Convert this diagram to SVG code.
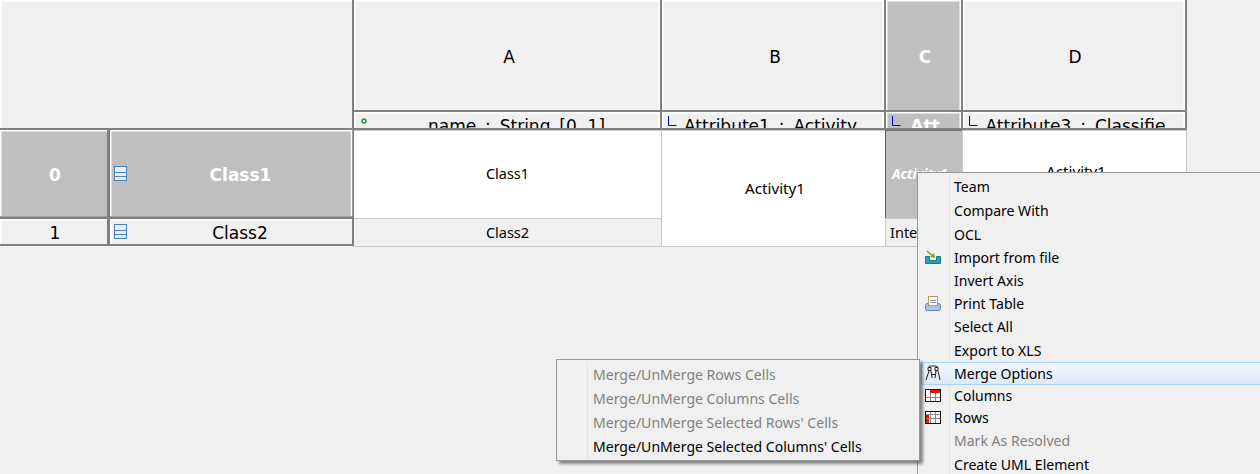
<svg xmlns="http://www.w3.org/2000/svg" width="1260" height="474" viewBox="0 0 1260 474">
<defs>
<filter id="sh" x="-5%" y="-10%" width="112%" height="125%"><feDropShadow dx="3" dy="3" stdDeviation="1.500" flood-color="#000" flood-opacity=".45"/></filter>
<linearGradient id="hov" x1="0" y1="0" x2="0" y2="1"><stop offset="0" stop-color="#f2f7fd"/><stop offset="1" stop-color="#dce9f8"/></linearGradient>
<clipPath id="cA"><rect x="355" y="113" width="305" height="15"/></clipPath>
<clipPath id="cB"><rect x="663" y="113" width="221" height="15"/></clipPath>
<clipPath id="cC"><rect x="887" y="113" width="74" height="15"/></clipPath>
<clipPath id="cD"><rect x="964" y="113" width="221" height="15"/></clipPath>
<g id="clsIcon"><rect x=".5" y=".5" width="12" height="14" fill="#e8f0f8" stroke="#4a82c0"/><path d="M1 6.500h11M1 10.500h11" stroke="#4a82c0" fill="none"/></g>
<path id="ell" d="M.5 0v9.500h8" fill="none" stroke="#0000c0"/>
</defs>
<style>
text{font-family:"Noto Sans","Open Sans","Liberation Sans",sans-serif;fill:#000}
.h{font-family:"DejaVu Sans",sans-serif;font-size:17px;text-anchor:middle}
.a{word-spacing:3.500px}
.c{font-size:14.500px;text-anchor:middle}
.v{font-size:15.200px}
.m{font-size:14.050px}
.d{fill:#808080}
.w{fill:#fff;font-weight:bold}
.hd{fill:#f0f0f0;stroke:#808080;stroke-width:2}
.sel{fill:#bfbfbf;stroke:#808080;stroke-width:2}
.hl{fill:none;stroke:#fff;stroke-width:1.500}
.cell{fill:#fff;stroke:#c8c8c8}
.cg{fill:#f0f0f0;stroke:#c8c8c8}
</style>
<rect width="1260" height="474" fill="#f0f0f0"/>
<g id="table-cells">
<g id="cell-a0"><rect class="cell" x="353.500" y="130.500" width="308" height="88"/><text class="c" x="507.500" y="179">Class1</text></g>
<g id="cell-a1"><rect class="cg" x="353.500" y="218.500" width="308" height="28"/><text class="c" x="507.500" y="237.500">Class2</text></g>
<g id="cell-b"><rect class="cell" x="661.500" y="130.500" width="224" height="116"/><text class="c v" x="775" y="194">Activity1</text></g>
<g id="cell-c0"><rect x="885.500" y="130.500" width="77" height="88" fill="#bfbfbf" stroke="#000" stroke-dasharray="1 1"/><text x="892" y="179" font-size="13.500" font-style="italic" class="w">Activity1</text></g>
<g id="cell-c1"><rect class="cg" x="885.500" y="218.500" width="77" height="28"/><text x="890" y="238" font-size="14.500">Inte</text></g>
<g id="cell-d"><rect class="cell" x="962.500" y="130.500" width="224" height="116"/><text class="c v" x="1076" y="177">Activity1</text></g>
</g>
<g id="table-headers">
<g id="corner"><rect class="hd" x="-2" y="-2" width="355" height="131"/><path class="hl" d="M.75 128V.75H352"/></g>
<g id="col-a"><rect class="hd" x="353" y="-2" width="308" height="113"/><path class="hl" d="M354.750 110V.75H659.250V110"/><text class="h" x="509" y="63">A</text><rect class="hd" x="353" y="111" width="308" height="18"/><path class="hl" d="M354.750 128V112.750H659.250V128"/><circle cx="364" cy="121" r="2" fill="none" stroke="#1a9a50" stroke-width="1.500"/><text class="h a" x="516.500" y="132" clip-path="url(#cA)">name : String [0..1]</text></g>
<g id="col-b"><rect class="hd" x="661" y="-2" width="224" height="113"/><path class="hl" d="M662.750 110V.75H883.250V110"/><text class="h" x="775" y="63">B</text><rect class="hd" x="661" y="111" width="224" height="18"/><path class="hl" d="M662.750 128V112.750H883.250V128"/><use href="#ell" x="668" y="116"/><text class="h a" x="770.500" y="132" clip-path="url(#cB)">Attribute1 : Activity</text></g>
<g id="col-c"><rect class="sel" x="885" y="-2" width="77" height="113"/><path class="hl" d="M886.750 110V.75H960.250V110"/><text class="h w" x="925" y="63">C</text><rect class="sel" x="885" y="111" width="77" height="18"/><path class="hl" d="M886.750 128V112.750H960.250V128"/><use href="#ell" x="892" y="116"/><text class="h w" x="925" y="132" clip-path="url(#cC)">Att</text></g>
<g id="col-d"><rect class="hd" x="962" y="-2" width="224" height="113"/><path class="hl" d="M963.750 110V.75H1184.250V110"/><text class="h" x="1075" y="63">D</text><rect class="hd" x="962" y="111" width="224" height="18"/><path class="hl" d="M963.750 128V112.750H1184.250V128"/><use href="#ell" x="969" y="116"/><text class="h a" x="1075.500" y="132" clip-path="url(#cD)">Attribute3 : Classifie</text></g>
<g id="row-0"><rect class="sel" x="-2" y="129" width="110" height="88.500"/><path class="hl" d="M.75 216V130.750H107"/><text class="h w" x="55" y="181">0</text><rect class="sel" x="109" y="129" width="244" height="88.500"/><path class="hl" d="M110.750 216V130.750H351.500V216"/><use href="#clsIcon" x="114" y="166"/><text class="h w" x="240.500" y="181">Class1</text></g>
<g id="row-1"><rect class="hd" x="-2" y="218" width="110" height="27"/><path class="hl" d="M.75 244V219.750H107"/><text class="h" x="55" y="238.500">1</text><rect class="hd" x="109" y="218" width="244" height="27"/><path class="hl" d="M110.750 244V219.750H351.500"/><use href="#clsIcon" x="114" y="224"/><text class="h" x="240" y="238.500">Class2</text></g>
</g>
<g id="context-menu">
<rect x="917.500" y="172.500" width="360" height="320" fill="#f0f0f0" stroke="#979797"/>
<path d="M949.500 174V474" stroke="#e4e4e4" fill="none"/>
<rect x="921.500" y="362.500" width="345" height="22" rx="2" fill="url(#hov)" stroke="#a8d0f4"/>
<text class="m" x="954" y="192">Team</text>
<text class="m" x="954" y="216">Compare With</text>
<text class="m" x="954" y="240">OCL</text>
<text class="m" x="954" y="263">Import from file</text>
<text class="m" x="954" y="286">Invert Axis</text>
<text class="m" x="954" y="309">Print Table</text>
<text class="m" x="954" y="332">Select All</text>
<text class="m" x="954" y="356">Export to XLS</text>
<text class="m" x="954" y="379">Merge Options</text>
<text class="m" x="954" y="401">Columns</text>
<text class="m" x="954" y="423">Rows</text>
<text class="m d" x="954" y="446">Mark As Resolved</text>
<text class="m" x="954" y="470">Create UML Element</text>
<g id="menu-icons">
<path d="M925.500 256.500h4v4h7v-4h4v7h-15z" fill="#2aa0b0" stroke="#10808f"/><path d="M927 251l6 5" stroke="#80a820" stroke-width="1.500"/><path d="M935 258l-5-1 4-4z" fill="#80a820"/>
<rect x="925.500" y="303.500" width="15" height="7" rx="2" fill="#b0c4e0" stroke="#5f7fb5"/><rect x="928.500" y="296.500" width="9" height="9" fill="#fff" stroke="#b09a60"/><path d="M930 300.500h6M930 302.500h6" stroke="#8a9ab0"/>
<path d="M928 367.500h3v3h-3zM935 367.500h3v3h-3zM929 371l-3 9M931 371l1 7M936 371l-1 7M938 371l2 9M931 374.500h4M928 367.500l2-1.500h6l2 1.500" fill="none" stroke="#222"/>
<rect x="925.500" y="389.500" width="15" height="12" fill="#fff" stroke="#111"/><rect x="930" y="390" width="10" height="3" fill="#e01010"/><path d="M930.500 393v8M935.500 393v8M926 397.500h14" stroke="#888"/>
<rect x="925.500" y="411.500" width="15" height="12" fill="#fff" stroke="#111"/><rect x="926" y="415" width="3" height="8" fill="#e01010"/><path d="M930.500 412v11M935.500 412v11M926 414.500h14M926 418.500h14" stroke="#888"/>
</g>
</g>
<g id="submenu">
<rect x="556.500" y="359.500" width="363" height="101" fill="#f0f0f0" stroke="#979797" filter="url(#sh)"/>
<path d="M587.500 361V459" stroke="#e4e4e4" fill="none"/>
<text class="m d" x="593" y="380">Merge/UnMerge Rows Cells</text>
<text class="m d" x="593" y="404">Merge/UnMerge Columns Cells</text>
<text class="m d" x="593" y="428">Merge/UnMerge Selected Rows' Cells</text>
<text class="m" x="593" y="452">Merge/UnMerge Selected Columns' Cells</text>
</g>
</svg>
